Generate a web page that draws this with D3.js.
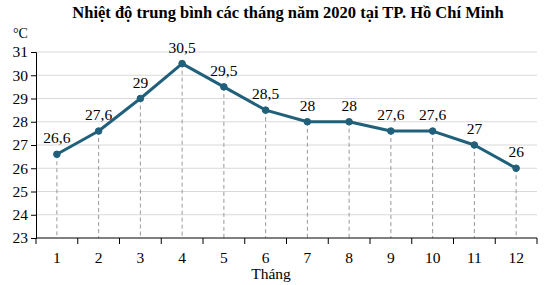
<!DOCTYPE html>
<html><head><meta charset="utf-8">
<script src="https://cdn.jsdelivr.net/npm/d3@7"></script>
<style>body{margin:0;background:#fff}svg{display:block;font-family:"Liberation Serif","Times New Roman",serif}</style>
</head><body><svg id="c" width="547" height="285"></svg>
<script>
const months = ["1","2","3","4","5","6","7","8","9","10","11","12"];
const temps = [26.6,27.6,29,30.5,29.5,28.5,28,28,27.6,27.6,27,26];
const labels = ["26,6","27,6","29","30,5","29,5","28,5","28","28","27,6","27,6","27","26"];
const yTicks = [23,24,25,26,27,28,29,30,31];
const title = "Nhiệt độ trung bình các tháng năm 2020 tại TP. Hồ Chí Minh";

const svg = d3.select("#c");
const L=36,R=537,T=52,B=238;
const x = d3.scaleBand().domain(months).range([L,R]);
const y = d3.scaleLinear().domain([23,31]).range([B,T]);
const col = "#21607a";
const FF = "Liberation Serif";

svg.append("g").selectAll("line").data(yTicks.slice(1)).join("line")
  .attr("x1",L).attr("x2",R).attr("y1",d=>y(d)).attr("y2",d=>y(d))
  .attr("stroke","#d9d9d9").attr("stroke-width",1);

svg.append("g").selectAll("line").data(months).join("line")
  .attr("x1",(d)=>x(d)+x.bandwidth()/2).attr("x2",(d)=>x(d)+x.bandwidth()/2)
  .attr("y1",(d,i)=>y(temps[i])).attr("y2",B)
  .attr("stroke","#999").attr("stroke-width",1).attr("stroke-dasharray","4,3");

const ya = svg.append("g").attr("transform",`translate(${L},0)`)
  .call(d3.axisLeft(y).tickValues(yTicks).tickSize(5).tickPadding(3).tickFormat(d3.format("d")));
ya.attr("font-family",FF);
ya.select(".domain").attr("stroke","#000");
ya.selectAll("text").attr("font-size",15.5).attr("font-family",FF).attr("fill","#000");

const xa = svg.append("g").attr("transform",`translate(0,${B})`)
  .call(d3.axisBottom(x).tickSize(0).tickPadding(14));
xa.attr("font-family",FF);
xa.select(".domain").remove();
xa.selectAll("text").attr("font-size",15.5).attr("font-family",FF).attr("fill","#000");
svg.append("line").attr("x1",L).attr("x2",R).attr("y1",B).attr("y2",B).attr("stroke","#000");
const bounds = months.map(d=>x(d)).concat([R]);
svg.append("g").selectAll("line").data(bounds).join("line")
  .attr("x1",d=>d).attr("x2",d=>d).attr("y1",B).attr("y2",B+6).attr("stroke","#000");

const line = d3.line().x((d,i)=>x(months[i])+x.bandwidth()/2).y(d=>y(d));
svg.append("path").datum(temps).attr("d",line).attr("fill","none")
  .attr("stroke",col).attr("stroke-width",3).attr("stroke-linejoin","round");
svg.append("g").selectAll("circle").data(temps).join("circle")
  .attr("cx",(d,i)=>x(months[i])+x.bandwidth()/2).attr("cy",d=>y(d)).attr("r",3.3)
  .attr("fill",col).attr("stroke",col);

svg.append("g").selectAll("text").data(temps).join("text")
  .attr("x",(d,i)=>x(months[i])+x.bandwidth()/2).attr("y",d=>y(d)-11)
  .attr("text-anchor","middle").attr("font-size",15.5).attr("fill","#000")
  .text((d,i)=>labels[i]);

svg.append("text").attr("x",288).attr("y",18).attr("text-anchor","middle")
  .attr("font-size",16.5).attr("font-weight","bold").text(title);
svg.append("text").attr("x",13).attr("y",38).attr("font-size",14).text("°C");
svg.append("text").attr("x",271).attr("y",279).attr("text-anchor","middle")
  .attr("font-size",15.5).text("Tháng");
</script></body></html>
